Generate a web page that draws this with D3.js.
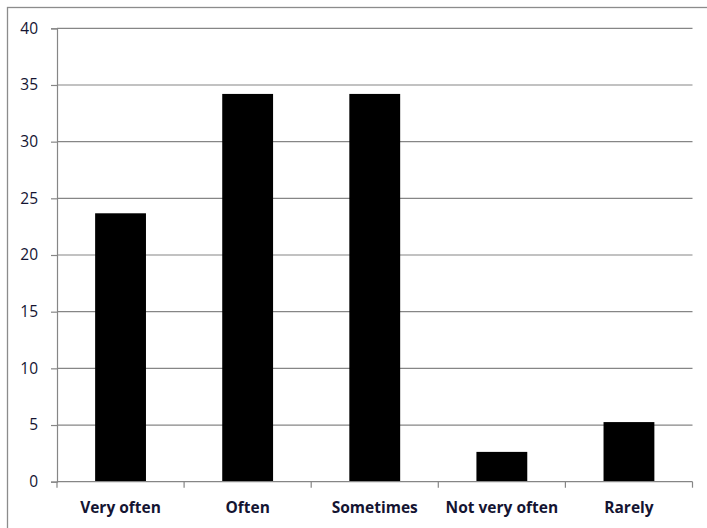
<!DOCTYPE html>
<html>
<head>
<meta charset="utf-8">
<script src="https://cdn.jsdelivr.net/npm/d3@7/dist/d3.min.js"></script>
<style>
  html, body { margin: 0; padding: 0; background: #fff; }
  svg { display: block; }
</style>
</head>
<body>
<svg id="chart" width="707" height="528"></svg>
<script>
// Survey responses (percent of respondents)
const categories = ["Very often", "Often", "Sometimes", "Not very often", "Rarely"];
const values = [23.68, 34.21, 34.21, 2.63, 5.26];
const yTicks = [0, 5, 10, 15, 20, 25, 30, 35, 40];

const svg = d3.select("#chart");
const W = 707, H = 528;
const plot = { left: 57, right: 692.5, top: 28.3, bottom: 481.7 };
const gridColor = "#868686";
const textColor = "#141432";
const font = "'Open Sans', 'Liberation Sans', sans-serif";

// outer chart frame
svg.append("rect")
  .attr("x", 7.5).attr("y", 7.5)
  .attr("width", W).attr("height", H)
  .attr("fill", "#fff")
  .attr("stroke", "#8c8c8c").attr("stroke-width", 1.3);

const x = d3.scaleBand()
  .domain(categories)
  .range([plot.left, plot.right])
  .paddingInner(0.6).paddingOuter(0.3);

const y = d3.scaleLinear().domain([0, 40]).range([plot.bottom, plot.top]);

// horizontal gridlines
svg.append("g").selectAll("line")
  .data(yTicks.filter(d => d > 0))
  .join("line")
  .attr("x1", plot.left).attr("x2", plot.right)
  .attr("y1", d => y(d)).attr("y2", d => y(d))
  .attr("stroke", gridColor).attr("stroke-width", 1.2);

// bars
svg.append("g").selectAll("rect")
  .data(values)
  .join("rect")
  .attr("x", (d, i) => x(categories[i]))
  .attr("width", x.bandwidth())
  .attr("y", d => y(d))
  .attr("height", d => y(0) - y(d))
  .attr("fill", "#000");

// y axis
const yAxis = d3.axisLeft(y).tickValues(yTicks).tickSize(6).tickPadding(13);
const gy = svg.append("g").attr("transform", `translate(${plot.left},0)`).call(yAxis);
gy.select(".domain").attr("stroke", gridColor).attr("stroke-width", 1.2);
gy.selectAll(".tick line").attr("stroke", gridColor).attr("stroke-width", 1.2);
gy.selectAll(".tick text")
  .attr("fill", textColor)
  .style("font-family", font)
  .style("font-size", "15.5px");

// x axis: ticks at category boundaries
const xAxisLine = svg.append("g");
xAxisLine.append("line")
  .attr("x1", plot.left).attr("x2", plot.right)
  .attr("y1", plot.bottom).attr("y2", plot.bottom)
  .attr("stroke", gridColor).attr("stroke-width", 1.2);
const boundaries = d3.range(categories.length + 1)
  .map(i => plot.left + i * (plot.right - plot.left) / categories.length);
xAxisLine.selectAll("line.tk")
  .data(boundaries)
  .join("line").attr("class", "tk")
  .attr("x1", d => d).attr("x2", d => d)
  .attr("y1", plot.bottom).attr("y2", plot.bottom + 6)
  .attr("stroke", gridColor).attr("stroke-width", 1.2);

svg.append("g").selectAll("text")
  .data(categories)
  .join("text")
  .attr("x", d => x(d) + x.bandwidth() / 2)
  .attr("y", 513)
  .attr("text-anchor", "middle")
  .attr("fill", textColor)
  .style("font-family", font)
  .style("font-weight", "bold")
  .style("font-size", "15.5px")
  .text(d => d);
</script>
</body>
</html>
